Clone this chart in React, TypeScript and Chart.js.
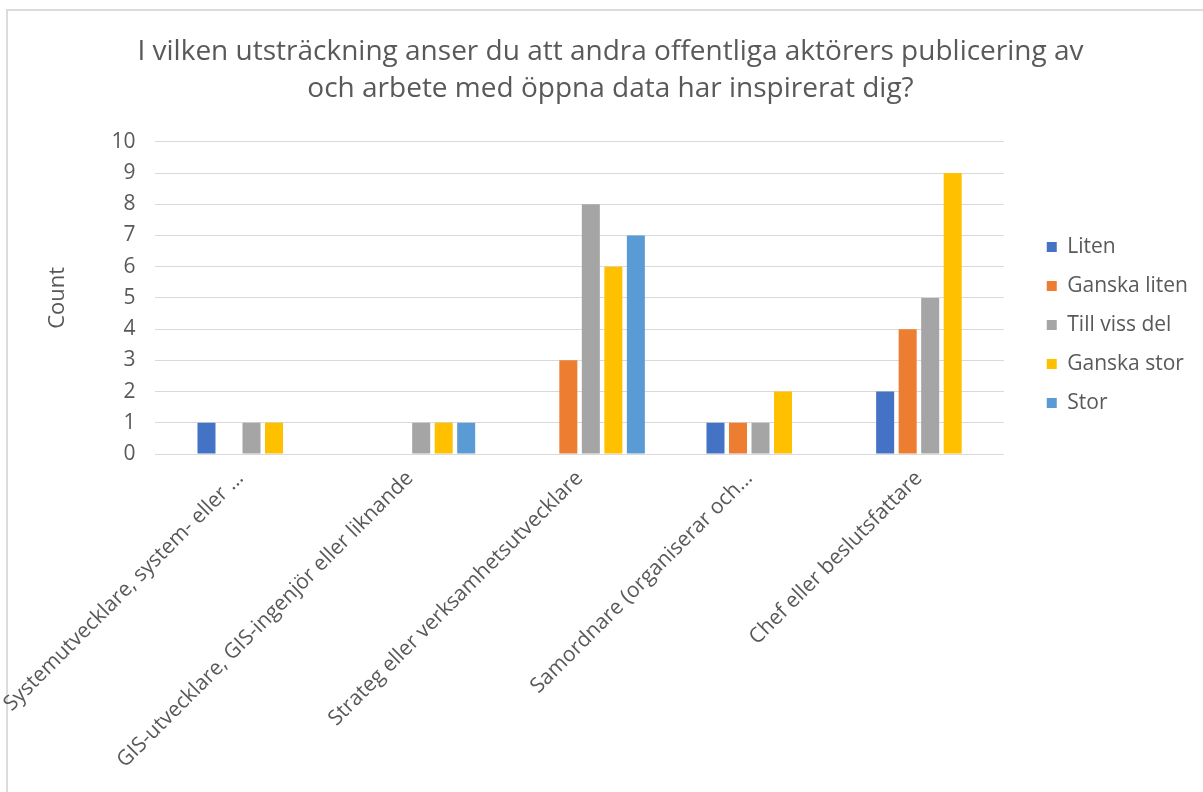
import React, { useEffect, useRef } from 'react';
import { Chart, registerables } from 'chart.js';

Chart.register(...registerables);

const titleLines = [
  'I vilken utsträckning anser du att andra offentliga aktörers publicering av',
  'och arbete med öppna data har inspirerat dig?',
];
const categories = [
  'Systemutvecklare, system- eller ...',
  'GIS-utvecklare, GIS-ingenjör eller liknande',
  'Strateg eller verksamhetsutvecklare',
  'Samordnare (organiserar och...',
  'Chef eller beslutsfattare',
];
const seriesNames = ['Liten', 'Ganska liten', 'Till viss del', 'Ganska stor', 'Stor'];
const liten = [1, 0, 0, 1, 2];
const ganskaLiten = [0, 0, 3, 1, 4];
const tillVissDel = [1, 1, 8, 1, 5];
const ganskaStor = [1, 1, 6, 2, 9];
const stor = [0, 1, 7, 0, 0];
// empty (unlabelled) series that still takes a slot in each group
const blank = [null, null, null, null, null];
const seriesColors = ['#4472C4', '#ED7D31', '#A5A5A5', '#FFC000', '#5B9BD5'];
const yAxisTitle = 'Count';
const yMin = 0;
const yMax = 10;
const yStep = 1;

const FONT = "'Open Sans', sans-serif";
const TEXT = '#595959';

export default function App() {
  const ref = useRef<HTMLCanvasElement | null>(null);

  useEffect(() => {
    if (!ref.current) return;
    const values = [liten, ganskaLiten, tillVissDel, ganskaStor, stor];
    const datasets: any[] = [
      {
        label: '',
        data: blank,
        backgroundColor: 'rgba(0,0,0,0)',
        borderWidth: 0,
      },
      ...seriesNames.map((name, i) => ({
        label: name,
        data: values[i],
        backgroundColor: seriesColors[i],
        borderWidth: 0,
      })),
    ];
    const chart = new Chart(ref.current, {
      type: 'bar',
      data: { labels: categories, datasets },
      options: {
        animation: false,
        responsive: false,
        maintainAspectRatio: false,
        datasets: {
          bar: { categoryPercentage: 0.796, barPercentage: 0.8 },
        },
        layout: { padding: { left: 23, right: 5, top: 20, bottom: 15 } },
        plugins: {
          tooltip: { enabled: false },
          title: {
            display: true,
            text: titleLines,
            color: TEXT,
            font: { family: FONT, size: 28, weight: 'normal', lineHeight: 1.3 },
            padding: { top: 14, bottom: 35 },
          },
          legend: {
            position: 'right',
            align: 'center',
            fullSize: false,
            title: {
              display: true,
              text: ' ',
              font: { family: FONT, size: 10 },
              padding: { top: 20, bottom: 22 },
            },
            labels: {
              filter: (item: any) => item.datasetIndex !== 0,
              boxWidth: 10,
              boxHeight: 10,
              color: TEXT,
              padding: 18,
              font: { family: FONT, size: 21 },
            },
          },
        },
        scales: {
          x: {
            grid: { display: false },
            border: { display: false },
            afterFit: (scale: any) => {
              scale.paddingLeft = 0;
              scale.paddingRight = 0;
            },
            ticks: {
              color: TEXT,
              font: { family: FONT, size: 21 },
              minRotation: 45,
              maxRotation: 45,
              autoSkip: false,
              padding: 4,
            },
          },
          y: {
            min: yMin,
            max: yMax,
            border: { display: false },
            grid: { color: '#d9d9d9', lineWidth: 1, drawTicks: false },
            ticks: {
              stepSize: yStep,
              color: TEXT,
              font: { family: FONT, size: 21 },
              padding: 20,
            },
            title: {
              display: true,
              text: yAxisTitle,
              color: TEXT,
              font: { family: FONT, size: 22 },
              padding: { top: 22, bottom: 20 },
            },
          },
          gap: {
            type: 'linear',
            position: 'right',
            display: true,
            grid: { display: false },
            border: { display: false },
            ticks: { display: false },
            afterFit: (scale: any) => {
              scale.width = 25;
            },
          },
        },
      },
    });
    return () => chart.destroy();
  }, []);

  return (
    <div style={{ position: 'absolute', left: 0, top: 0, width: 1203, height: 792, background: '#fff', overflow: 'hidden' }}>
      <div
        style={{
          position: 'absolute',
          left: 6,
          top: 9,
          width: 1300,
          height: 900,
          borderTop: '2px solid #dcdcdc',
          borderLeft: '2px solid #dcdcdc',
        }}
      />
      <canvas ref={ref} width={1203} height={792} style={{ position: 'absolute', left: 0, top: 0, width: 1203, height: 792 }} />
    </div>
  );
}
